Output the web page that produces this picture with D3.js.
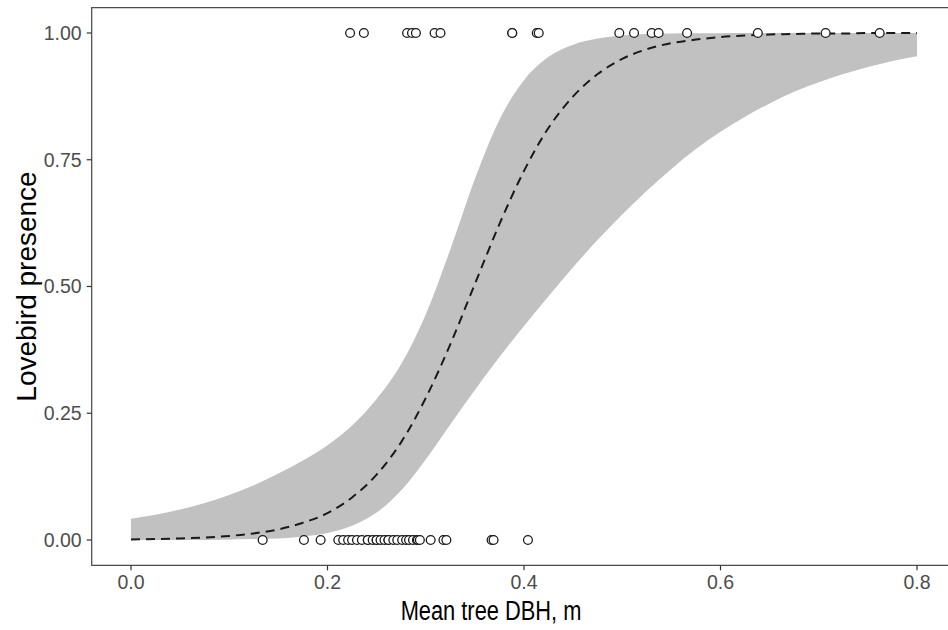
<!DOCTYPE html>
<html lang="en">
<head>
  <meta charset="UTF-8">
  <title>Lovebird presence vs mean tree DBH</title>
  <script src="https://d3js.org/d3.v7.min.js"></script>
  <style>
    body {
      margin: 0;
      background: #fff;
      font-family: "Liberation Sans", Arial, sans-serif;
    }
    .tick-label { fill: #4d4d4d; font-size: 19.5px; }
    .axis-title { fill: #000; font-size: 28px; }
  </style>
</head>
<body>
  <svg id="chart" width="948" height="630"></svg>

  <script>
    // fitted curve + 95% band
    const dbhGrid = [0, 0.025, 0.05, 0.075, 0.1, 0.125, 0.15, 0.175, 0.2, 0.225, 0.25, 0.275,
      0.3, 0.325, 0.35, 0.375, 0.4, 0.425, 0.45, 0.475, 0.5, 0.525, 0.55, 0.575, 0.6,
      0.625, 0.65, 0.675, 0.7, 0.725, 0.75, 0.775, 0.8];
    const fitProb = [0.001, 0.002, 0.003, 0.005, 0.008, 0.013, 0.021, 0.034, 0.053, 0.084, 0.129, 0.193,
      0.280, 0.386, 0.505, 0.623, 0.728, 0.813, 0.875, 0.919, 0.949, 0.968, 0.980, 0.987, 0.992,
      0.995, 0.997, 0.998, 0.999, 0.999, 1.0, 1.0, 1.0];
    const lowerProb = [0.0, 0.0, 0.0, 0.0, 0.001, 0.002, 0.003, 0.007, 0.014, 0.028, 0.054, 0.098,
      0.159, 0.228, 0.296, 0.361, 0.422, 0.481, 0.538, 0.592, 0.642, 0.689, 0.732, 0.771, 0.805,
      0.835, 0.861, 0.884, 0.903, 0.919, 0.933, 0.945, 0.954];
    const upperProb = [0.042, 0.050, 0.060, 0.073, 0.089, 0.108, 0.131, 0.157, 0.187, 0.226, 0.278, 0.347,
      0.445, 0.573, 0.712, 0.829, 0.907, 0.953, 0.977, 0.989, 0.995, 0.998, 0.999, 0.9995, 0.9997,
      0.9999, 1.0, 1.0, 1.0, 1.0, 1.0, 1.0, 1.0];

    // observed sites
    const presentDBH = [0.223, 0.237, 0.281, 0.286, 0.290, 0.309, 0.315, 0.388, 0.388, 0.413, 0.415,
      0.497, 0.512, 0.530, 0.537, 0.566, 0.638, 0.707, 0.762];
    const absentDBH = [0.134, 0.176, 0.193, 0.211, 0.216, 0.221, 0.225, 0.230, 0.235, 0.241, 0.241,
      0.246, 0.250, 0.250, 0.254, 0.258, 0.262, 0.262, 0.267, 0.271, 0.276, 0.280, 0.283, 0.287,
      0.291, 0.292, 0.294, 0.305, 0.318, 0.321, 0.367, 0.369, 0.404];

    const xTicks = [0, 0.2, 0.4, 0.6, 0.8];
    const yTicks = [0, 0.25, 0.5, 0.75, 1];

    const svg = d3.select("#chart");

    const x = d3.scaleLinear().domain([0, 0.8]).range([131, 917]);
    const y = d3.scaleLinear().domain([0, 1]).range([540, 33]);

    // panel limits with ggplot-style expansion
    const panel = { left: x(-0.04), right: x(0.84), top: y(1.05), bottom: y(-0.05) };

    const band = dbhGrid.map((d, i) => ({ x: d, fit: fitProb[i], lo: lowerProb[i], hi: upperProb[i] }));

    // ribbon
    svg.append("path")
      .datum(band)
      .attr("fill", "#c1c1c1")
      .attr("d", d3.area()
        .curve(d3.curveMonotoneX)
        .x(d => x(d.x))
        .y0(d => y(d.lo))
        .y1(d => y(d.hi)));

    // fitted line
    svg.append("path")
      .datum(band)
      .attr("fill", "none")
      .attr("stroke", "#1a1a1a")
      .attr("stroke-width", 2)
      .attr("stroke-dasharray", "9,6")
      .attr("d", d3.line()
        .curve(d3.curveMonotoneX)
        .x(d => x(d.x))
        .y(d => y(d.fit)));

    // points
    const pts = presentDBH.map(v => ({ x: v, y: 1 })).concat(absentDBH.map(v => ({ x: v, y: 0 })));
    svg.append("g").selectAll("circle")
      .data(pts)
      .enter().append("circle")
      .attr("cx", d => x(d.x))
      .attr("cy", d => y(d.y))
      .attr("r", 4.4)
      .attr("fill", "#fff")
      .attr("stroke", "#1a1a1a")
      .attr("stroke-width", 1.3);

    // panel border
    svg.append("rect")
      .attr("x", panel.left)
      .attr("y", panel.top)
      .attr("width", panel.right - panel.left)
      .attr("height", panel.bottom - panel.top)
      .attr("fill", "none")
      .attr("stroke", "#444")
      .attr("stroke-width", 1.2);

    // x axis
    const gx = svg.append("g");
    gx.selectAll("line").data(xTicks).enter().append("line")
      .attr("x1", d => x(d)).attr("x2", d => x(d))
      .attr("y1", panel.bottom).attr("y2", panel.bottom + 5)
      .attr("stroke", "#333").attr("stroke-width", 1.2);
    gx.selectAll("text").data(xTicks).enter().append("text")
      .attr("class", "tick-label")
      .attr("x", d => x(d))
      .attr("y", panel.bottom + 24)
      .attr("text-anchor", "middle")
      .text(d3.format(".1f"));

    // y axis
    const gy = svg.append("g");
    gy.selectAll("line").data(yTicks).enter().append("line")
      .attr("x1", panel.left - 5).attr("x2", panel.left)
      .attr("y1", d => y(d)).attr("y2", d => y(d))
      .attr("stroke", "#333").attr("stroke-width", 1.2);
    gy.selectAll("text").data(yTicks).enter().append("text")
      .attr("class", "tick-label")
      .attr("x", panel.left - 10)
      .attr("y", d => y(d))
      .attr("dy", "0.35em")
      .attr("text-anchor", "end")
      .text(d3.format(".2f"));

    // axis titles (x title is squeezed horizontally in the source)
    svg.append("text")
      .attr("class", "axis-title")
      .attr("transform", "translate(491,620) scale(0.78,1)")
      .attr("text-anchor", "middle")
      .text("Mean tree DBH, m");

    svg.append("text")
      .attr("class", "axis-title")
      .attr("transform", `translate(36,${(panel.top + panel.bottom) / 2}) rotate(-90)`)
      .attr("text-anchor", "middle")
      .text("Lovebird presence");
  </script>
</body>
</html>
